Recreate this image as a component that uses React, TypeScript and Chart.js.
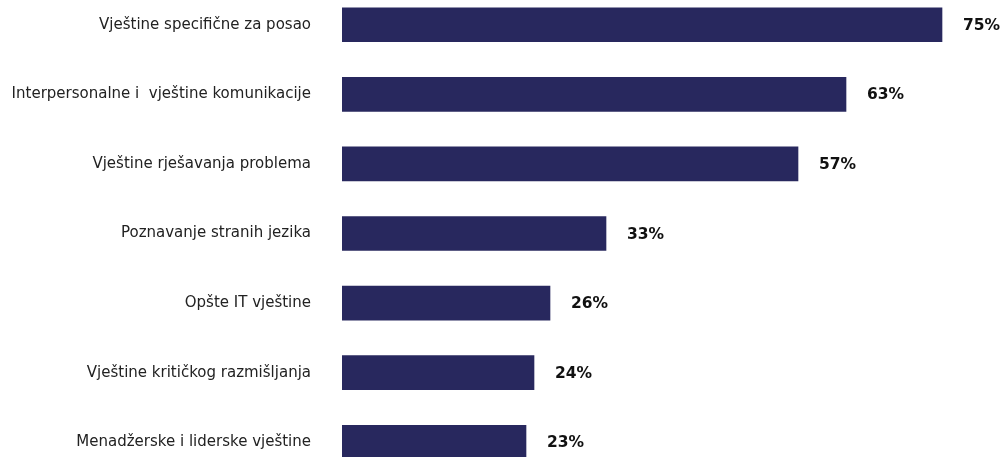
import React, { useEffect, useRef } from "react";
import { Chart, registerables } from "chart.js";

Chart.register(...registerables);

const categories = [
  "Vještine specifične za posao",
  "Interpersonalne i  vještine komunikacije",
  "Vještine rješavanja problema",
  "Poznavanje stranih jezika",
  "Opšte IT vještine",
  "Vještine kritičkog razmišljanja",
  "Menadžerske i liderske vještine",
];
const values = [75, 63, 57, 33, 26, 24, 23];
const valueLabels = ["75%", "63%", "57%", "33%", "26%", "24%", "23%"];

const barColor = "#28285e";

const valueLabelPlugin = {
  id: "valueLabels",
  afterDatasetsDraw(chart: any) {
    const ctx = chart.ctx;
    const meta = chart.getDatasetMeta(0);
    ctx.save();
    ctx.font = "bold 15.5px 'DejaVu Sans'";
    ctx.fillStyle = "#111";
    ctx.textAlign = "left";
    ctx.textBaseline = "middle";
    meta.data.forEach((bar: any, i: number) => {
      ctx.fillText(valueLabels[i], bar.x + 21, bar.y + 1);
    });
    ctx.restore();
  },
};

export default function App() {
  const ref = useRef<HTMLCanvasElement>(null);
  useEffect(() => {
    if (!ref.current) return;
    const chart = new Chart(ref.current, {
      type: "bar",
      data: {
        labels: categories,
        datasets: [
          {
            data: values,
            backgroundColor: barColor,
            barThickness: 34,
          },
        ],
      },
      options: {
        indexAxis: "y",
        animation: false,
        responsive: false,
        maintainAspectRatio: false,
        layout: { padding: { left: 0, right: 21, top: 0, bottom: 0 } },
        plugins: {
          legend: { display: false },
          tooltip: { enabled: false },
        },
        scales: {
          x: {
            min: 0,
            max: 80,
            display: false,
          },
          y: {
            grid: { display: false, drawTicks: false },
            border: { display: false },
            ticks: {
              padding: 31,
              color: "#222",
              font: { family: "'DejaVu Sans'", size: 15 },
            },
            afterFit(scale: any) {
              scale.width = 342;
              scale.paddingTop = 0;
              scale.paddingBottom = 0;
            },
          },
        },
      },
      plugins: [valueLabelPlugin],
    });
    return () => chart.destroy();
  }, []);
  return (
    <div style={{ position: "absolute", left: 0, top: -10, width: 1003, height: 487 }}>
      <canvas ref={ref} width={1003} height={487} style={{ display: "block" }} />
    </div>
  );
}
